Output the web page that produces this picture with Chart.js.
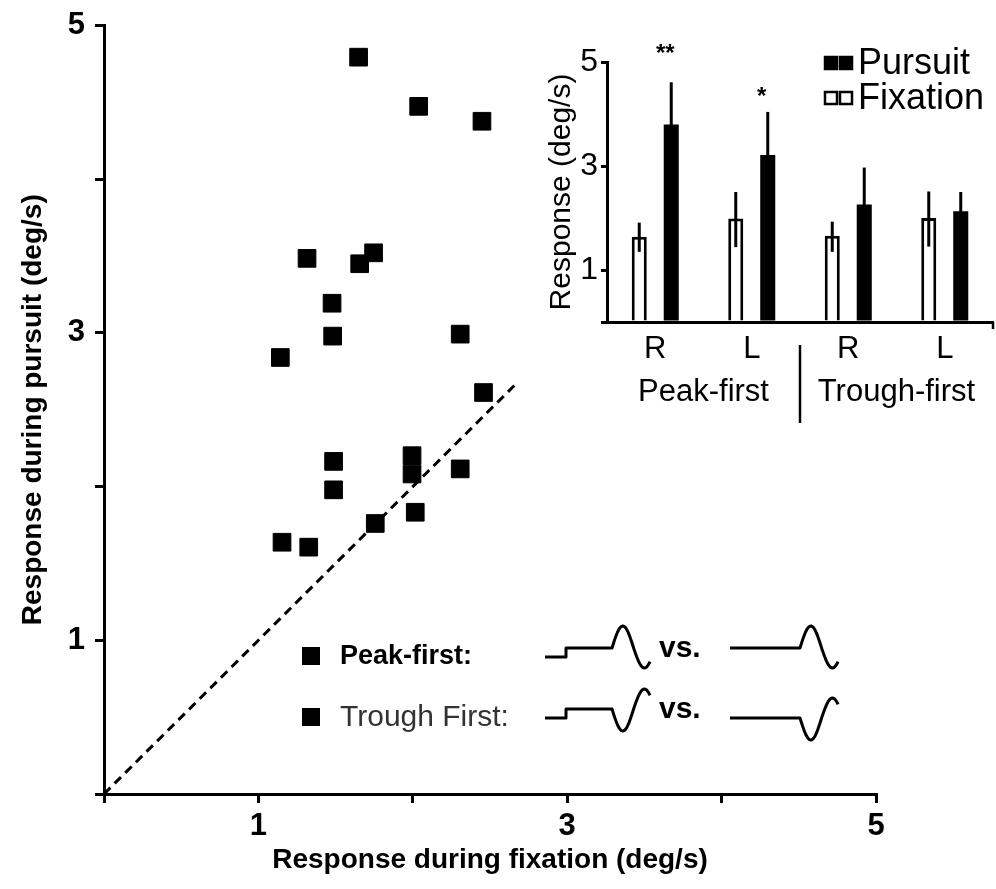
<!DOCTYPE html>
<html><head><meta charset="utf-8">
<script src="https://cdn.jsdelivr.net/npm/chart.js@4.4.0/dist/chart.umd.min.js"></script>
<style>
html,body{margin:0;padding:0;background:#fff;}
#wrap{position:relative;width:996px;height:889px;overflow:hidden;}
#main{position:absolute;left:0;top:0;}
#inset{position:absolute;left:540px;top:0;}
</style></head><body>
<div id="wrap"><canvas id="main" width="996" height="889"></canvas><canvas id="inset" width="456" height="430"></canvas></div>
<script>
// ---------- main scatter data ----------
const fixationResp = [1.649, 2.038, 2.448, 1.315, 1.746, 1.656, 1.477, 1.481, 1.142, 2.307, 2.458, 1.995, 1.995, 1.487, 1.487, 2.307, 2.016, 1.757, 1.153, 1.326];
const pursuitResp  = [4.794, 4.474, 4.377, 3.485, 3.521, 3.450, 3.193, 2.979, 2.840, 2.992, 2.612, 2.201, 2.082, 2.164, 1.979, 2.115, 1.833, 1.760, 1.638, 1.606];
const unityLine = [0, 2.68];
const mainTickLabels = [1, 3, 5];
const legendLabels = ['Peak-first:', 'Trough First:'];

// ---------- inset bar data ----------
const insetCategories = ['R', 'L', 'R', 'L'];
const insetGroups = ['Peak-first', 'Trough-first'];
const fixationMean  = [1.64, 1.99, 1.66, 2.00];
const fixationErrHi = [1.91, 2.50, 1.93, 2.51];
const fixationErrLo = [1.35, 1.44, 1.35, 1.45];
const pursuitMean   = [3.80, 3.21, 2.26, 2.13];
const pursuitErrHi  = [4.61, 4.04, 2.97, 2.50];
const pursuitErrLo  = [2.99, 2.38, 1.55, 1.76];
const sigMarks = ['**', '*', '', ''];
const sigLevel = [5.26, 4.44, null, null];
const insetTickLabels = [1, 3, 5];

const FONT = "'Liberation Sans', Arial, Helvetica, sans-serif";
Chart.defaults.font.family = FONT;
Chart.defaults.color = '#000';

// ---------- legend with waveform icons for main chart ----------
function drawWave(ctx, x0, yb, withStep, peakFirst, flatLen, lowFlat) {
  ctx.beginPath();
  let x = x0, y;
  if (withStep) {
    ctx.moveTo(x0, yb + 5);
    ctx.lineTo(x0 + 21, yb + 5);
    ctx.lineTo(x0 + 21, yb - 4);
    x = x0 + flatLen; y = yb - 4;
    ctx.lineTo(x, y);
  } else {
    y = lowFlat ? yb + 5 : yb - 4;
    ctx.moveTo(x0, y);
    x = x0 + flatLen;
    ctx.lineTo(x, y);
  }
  const w = 38, a1 = 22, a2 = 20, s = peakFirst ? -1 : 1;
  for (let i = 1; i <= 40; i++) {
    const t = i / 40;
    const ph = t * 2 * Math.PI * 0.88;
    const amp = Math.sin(ph) > 0 ? a1 : a2;
    ctx.lineTo(x + t * w, y + s * amp * Math.sin(ph));
  }
  ctx.stroke();
}

const mainLegendPlugin = {
  id: 'mainLegend',
  afterDraw(chart) {
    const ctx = chart.ctx;
    ctx.save();
    const rows = [
      {label: legendLabels[0], bold: true, size: 27, y: 656, peakFirst: true, lowFlat: false},
      {label: legendLabels[1], bold: false, size: 30, y: 717, peakFirst: false, lowFlat: true}
    ];
    rows.forEach(r => {
      ctx.fillStyle = '#000';
      ctx.fillRect(302, r.y - 9, 18, 18);
      ctx.font = (r.bold ? 'bold ' : '') + r.size + 'px ' + FONT;
      ctx.textBaseline = 'middle';
      ctx.textAlign = 'left';
      ctx.fillStyle = r.bold ? '#000' : '#333';
      ctx.fillText(r.label, 340, r.y + 1);
      ctx.strokeStyle = '#000';
      ctx.lineWidth = 3;
      ctx.lineJoin = 'round';
      drawWave(ctx, 545, r.y - 4, true, r.peakFirst, 67, false);
      ctx.fillStyle = '#000';
      ctx.font = 'bold 30px ' + FONT;
      ctx.fillText('vs.', 659, r.y - 7);
      drawWave(ctx, 730, r.y - 4, false, r.peakFirst, 70, r.lowFlat);
    });
    ctx.restore();
  }
};

const points = fixationResp.map((x, i) => ({x: x, y: pursuitResp[i]}));

new Chart(document.getElementById('main'), {
  type: 'scatter',
  data: {
    datasets: [
      {label: 'Unity', type: 'line', data: unityLine.map(v => ({x: v, y: v})),
       borderColor: '#000', borderWidth: 3, borderDash: [9, 6], pointRadius: 0, fill: false, order: 2},
      {label: 'Neurons', data: points, pointStyle: 'rect', pointRadius: 12.5,
       backgroundColor: '#000', borderColor: '#000', borderWidth: 1, order: 1}
    ]
  },
  options: {
    responsive: false, animation: false, devicePixelRatio: 1,
    layout: {padding: {left: 0, top: 24, right: 120, bottom: 0}},
    plugins: {legend: {display: false}, tooltip: {enabled: false}},
    scales: {
      x: {
        type: 'linear', min: 0, max: 5,
        afterFit(s) { s.height = 95; },
        ticks: {stepSize: 1, autoSkip: false, maxRotation: 0, padding: 8,
                font: {size: 31, weight: 'bold', lineHeight: 1},
                callback: v => mainTickLabels.includes(v) ? String(v) : ''},
        grid: {drawOnChartArea: false, color: '#000', lineWidth: 3, tickLength: 9},
        border: {color: '#000', width: 3},
        title: {display: true, text: 'Response during fixation (deg/s)',
                font: {size: 28, weight: 'bold'}, padding: {top: 0, bottom: 12}}
      },
      y: {
        type: 'linear', min: 0, max: 5,
        afterFit(s) { s.width = 104; },
        ticks: {stepSize: 1, autoSkip: false, padding: 10,
                font: {size: 31, weight: 'bold', lineHeight: 1},
                callback: v => mainTickLabels.includes(v) ? String(v) : ''},
        grid: {drawOnChartArea: false, color: '#000', lineWidth: 3, tickLength: 9},
        border: {color: '#000', width: 3},
        title: {display: true, text: 'Response during pursuit (deg/s)',
                font: {size: 28, weight: 'bold'}, padding: {top: 16, bottom: 0}}
      }
    }
  },
  plugins: [mainLegendPlugin]
});

// ---------- inset ----------
const insetExtras = {
  id: 'insetExtras',
  afterDatasetsDraw(chart) {
    const ctx = chart.ctx, ys = chart.scales.y, xs = chart.scales.x;
    ctx.save();
    const sets = [[fixationErrLo, fixationErrHi], [pursuitErrLo, pursuitErrHi]];
    sets.forEach((e, di) => {
      const meta = chart.getDatasetMeta(di);
      meta.data.forEach((bar, j) => {
        ctx.strokeStyle = '#000';
        ctx.lineWidth = 3;
        ctx.beginPath();
        ctx.moveTo(bar.x, ys.getPixelForValue(e[0][j]));
        ctx.lineTo(bar.x, ys.getPixelForValue(e[1][j]));
        ctx.stroke();
      });
    });
    // significance marks
    const pm = chart.getDatasetMeta(1);
    ctx.fillStyle = '#000';
    ctx.font = 'bold 24px ' + FONT;
    ctx.textAlign = 'center';
    ctx.textBaseline = 'middle';
    sigMarks.forEach((m, j) => {
      if (!m) return;
      ctx.fillText(m, pm.data[j].x - 6, ys.getPixelForValue(sigLevel[j]) + 6);
    });
    // separator between groups
    const sx = (xs.getPixelForValue(1) + xs.getPixelForValue(2)) / 2;
    ctx.lineWidth = 2.5;
    ctx.beginPath();
    ctx.moveTo(sx, 345); ctx.lineTo(sx, 423);
    ctx.stroke();
    // right end tick
    const ca = chart.chartArea;
    ctx.lineWidth = 2.5;
    ctx.beginPath();
    ctx.moveTo(ca.right, ca.bottom); ctx.lineTo(ca.right, ca.bottom + 7);
    ctx.stroke();
    // legend
    const items = chart.data.datasets.slice().reverse();
    ctx.textAlign = 'left';
    ctx.font = '36px ' + FONT;
    items.forEach((ds, k) => {
      const y = 63 + k * 35;
      [285, 300].forEach(x => {
        ctx.fillStyle = ds.backgroundColor;
        ctx.fillRect(x, y - 6, 12, 12);
        ctx.strokeStyle = '#000';
        ctx.lineWidth = 2.5;
        ctx.strokeRect(x, y - 6, 12, 12);
      });
      ctx.fillStyle = '#000';
      ctx.fillText(ds.label, 318, y + 1);
    });
    ctx.restore();
  }
};

new Chart(document.getElementById('inset'), {
  type: 'bar',
  data: {
    labels: insetCategories,
    datasets: [
      {label: 'Fixation', data: fixationMean, backgroundColor: '#fff', borderColor: '#000',
       borderWidth: 3, categoryPercentage: 0.663, barPercentage: 0.47},
      {label: 'Pursuit', data: pursuitMean, backgroundColor: '#000', borderColor: '#000',
       borderWidth: 0, categoryPercentage: 0.663, barPercentage: 0.47}
    ]
  },
  options: {
    responsive: false, animation: false, devicePixelRatio: 1,
    layout: {padding: {left: 0, top: 62, right: 3, bottom: 0}},
    plugins: {legend: {display: false}, tooltip: {enabled: false}},
    scales: {
      x: {
        afterFit(s) { s.height = 40; },
        grid: {display: false},
        border: {color: '#000', width: 3},
        ticks: {padding: 1, font: {size: 31}}
      },
      x2: {
        type: 'category', labels: insetGroups, position: 'bottom',
        afterFit(s) { s.height = 68; },
        grid: {display: false},
        border: {display: false},
        ticks: {padding: 4, font: {size: 31}}
      },
      y: {
        min: 0, max: 5,
        afterFit(s) { s.width = 67; },
        afterBuildTicks(s) { s.ticks = [0, 1, 3, 5].map(v => ({value: v})); },
        ticks: {padding: 3, font: {size: 32},
                callback: v => insetTickLabels.includes(v) ? String(v) : ''},
        grid: {drawOnChartArea: false, color: '#000', lineWidth: 3, tickLength: 6},
        border: {color: '#000', width: 3},
        title: {display: true, text: 'Response (deg/s)', font: {size: 30},
                padding: {top: 4, bottom: 0}}
      }
    }
  },
  plugins: [insetExtras]
});
</script>
</body></html>
